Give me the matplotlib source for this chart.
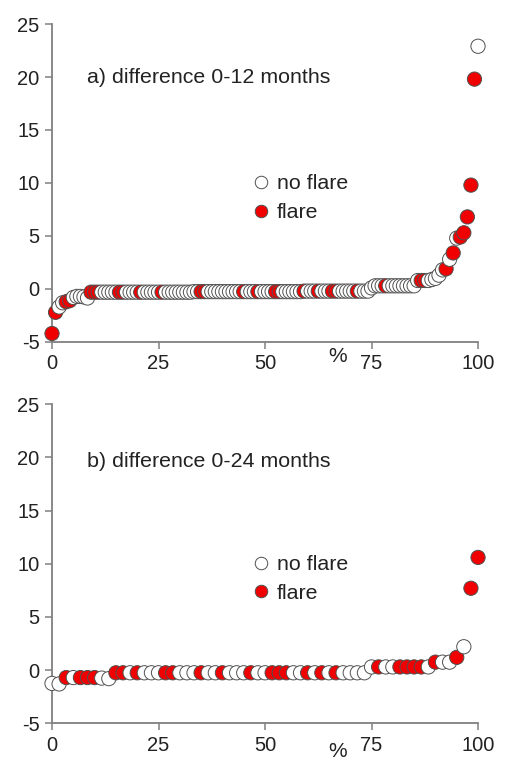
import numpy as np
import matplotlib
matplotlib.use('Agg')
import matplotlib.pyplot as plt
from matplotlib.lines import Line2D

plt.rcParams['font.family'] = ['Liberation Sans', 'DejaVu Sans']
plt.rcParams['axes.unicode_minus'] = False

# ----------------------------------------------------------------------------
# data: sorted differences (ranked), flare flag per point (1 = flare)
# ----------------------------------------------------------------------------
# a) difference 0-12 months
diff_12 = [-4.2, -2.2, -1.7, -1.3, -1.2, -1.1, -0.8, -0.7, -0.7, -0.75,
           -0.85, -0.3, -0.3, -0.3, -0.3, -0.3, -0.3, -0.3, -0.3, -0.3,
           -0.3, -0.3, -0.3, -0.3, -0.3, -0.3, -0.3, -0.3, -0.3, -0.3,
           -0.3, -0.3, -0.3, -0.3, -0.3, -0.3, -0.3, -0.3, -0.3, -0.3,
           -0.25, -0.25, -0.25, -0.25, -0.25, -0.25, -0.25, -0.25, -0.25, -0.25,
           -0.25, -0.25, -0.25, -0.25, -0.25, -0.25, -0.25, -0.25, -0.25, -0.25,
           -0.25, -0.25, -0.25, -0.25, -0.25, -0.25, -0.25, -0.25, -0.25, -0.25,
           -0.25, -0.2, -0.2, -0.2, -0.2, -0.2, -0.2, -0.2, -0.2, -0.2,
           -0.2, -0.2, -0.2, -0.2, -0.2, -0.2, -0.2, -0.2, -0.2, -0.2,
           0.1, 0.3, 0.3, 0.3, 0.3, 0.3, 0.3, 0.3, 0.3, 0.3,
           0.3, 0.3, 0.3, 0.8, 0.8, 0.8, 0.8, 0.9, 1.0, 1.3,
           1.8, 1.9, 2.8, 3.4, 4.8, 4.9, 5.3, 6.8, 9.8, 19.8,
           22.9]
flare_12 = [1, 1, 0, 0, 1, 1, 0, 0, 0, 0,
            0, 1, 1, 1, 0, 0, 0, 0, 0, 1,
            1, 0, 0, 0, 0, 1, 0, 0, 0, 0,
            0, 1, 0, 0, 0, 0, 0, 0, 0, 0,
            0, 0, 1, 1, 0, 0, 0, 0, 0, 0,
            0, 0, 0, 0, 1, 0, 0, 0, 1, 0,
            0, 0, 0, 1, 1, 0, 0, 0, 0, 0,
            0, 1, 0, 0, 0, 1, 0, 0, 0, 1,
            1, 0, 0, 0, 0, 0, 1, 0, 0, 0,
            0, 0, 0, 0, 1, 0, 0, 0, 0, 0,
            0, 0, 0, 0, 1, 1, 0, 0, 0, 0,
            0, 1, 0, 1, 0, 1, 1, 1, 1, 1,
            0]

# b) difference 0-24 months
diff_24 = [-1.25, -1.3, -0.7, -0.7, -0.7, -0.7, -0.7, -0.75, -0.8, -0.25,
           -0.25, -0.25, -0.25, -0.25, -0.25, -0.25, -0.25, -0.25, -0.25, -0.25,
           -0.25, -0.25, -0.25, -0.25, -0.25, -0.25, -0.25, -0.25, -0.25, -0.25,
           -0.25, -0.25, -0.25, -0.25, -0.25, -0.25, -0.25, -0.25, -0.25, -0.25,
           -0.25, -0.25, -0.25, -0.25, -0.25, 0.3, 0.3, 0.3, 0.3, 0.3,
           0.3, 0.3, 0.3, 0.3, 0.75, 0.75, 0.75, 1.2, 2.2, 7.7,
           10.6]
flare_24 = [0, 0, 1, 0, 1, 1, 1, 0, 0, 1,
            1, 0, 1, 0, 0, 0, 1, 1, 0, 0,
            0, 1, 0, 0, 1, 0, 0, 0, 1, 0,
            0, 1, 1, 1, 0, 0, 1, 0, 1, 0,
            1, 0, 0, 0, 0, 0, 1, 0, 0, 1,
            1, 1, 1, 0, 1, 0, 0, 1, 0, 1,
            1]

panel_text = ['a) difference 0-12 months', 'b) difference 0-24 months']
legend_labels = ['no flare', 'flare']
xticks = [0, 25, 50, 75, 100]
yticks = [-5, 0, 5, 10, 15, 20, 25]

RED = '#f00000'
EDGE = '#505050'
AXCOL = '#808080'
TXT = '#222222'

fig = plt.figure(figsize=(5.05, 7.62), dpi=100)
ax_a = fig.add_axes([0.103, 0.5512, 0.8436, 0.4173])
ax_b = fig.add_axes([0.103, 0.0508, 0.8436, 0.4186])

for ax, vals, flags, txt, laby in [(ax_a, diff_12, flare_12, panel_text[0], -0.045),
                                   (ax_b, diff_24, flare_24, panel_text[1], -0.088)]:
    n = len(vals)
    pct = 100.0 * np.arange(n) / (n - 1)   # percentile rank
    cols = [RED if f else 'white' for f in flags]
    ax.scatter(pct, vals, s=105, c=cols, edgecolors=EDGE, linewidths=0.7,
               clip_on=False, zorder=3)

    ax.set_xlim(0, 100)
    ax.set_ylim(-5, 25)
    ax.set_xticks(xticks)
    ax.set_yticks(yticks)
    for s in ['top', 'right']:
        ax.spines[s].set_visible(False)
    for s in ['left', 'bottom']:
        ax.spines[s].set_color(AXCOL)
        ax.spines[s].set_linewidth(1.3)
    ax.tick_params(direction='out', length=5, width=1.1, color=AXCOL,
                   labelsize=14.5, labelcolor=TXT, pad=4)

    ax.text(8.2, 20.0 if ax is ax_a else 19.6, txt, fontsize=15.4,
            color=TXT, va='center', ha='left')
    ax.text(0.67, laby, '%', transform=ax.transAxes, fontsize=15,
            color=TXT, ha='center', va='center', clip_on=False)

    handles = [Line2D([], [], ls='none', marker='o', ms=9, mfc='white',
                      mec=EDGE, mew=0.7),
               Line2D([], [], ls='none', marker='o', ms=9, mfc=RED,
                      mec=EDGE, mew=0.7)]
    ax.legend(handles, legend_labels, loc='center left',
              bbox_to_anchor=(0.44, 0.452), frameon=False, fontsize=15.4,
              handletextpad=0.25, labelspacing=0.45, borderpad=0,
              handlelength=1.0, labelcolor=TXT)

fig.savefig('out.png', dpi=100)
